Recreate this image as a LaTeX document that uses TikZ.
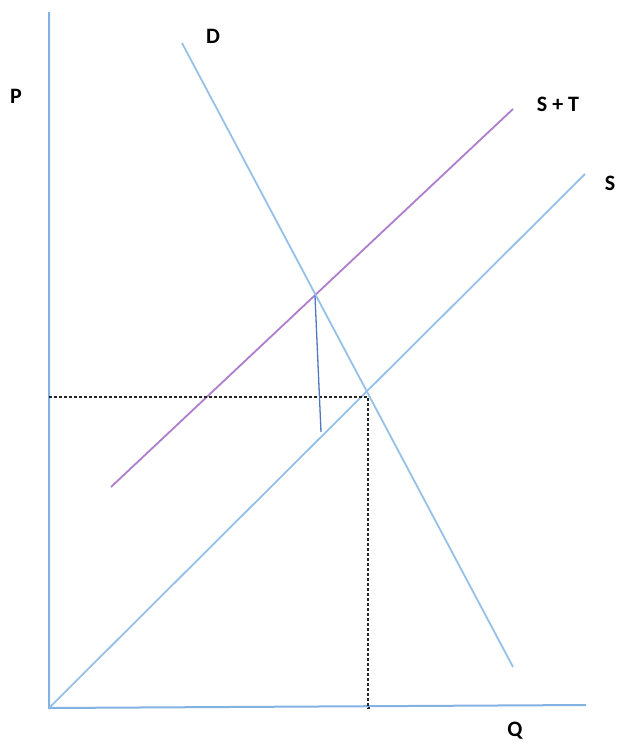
\documentclass[tikz,border=0pt]{standalone}
\usepackage{fontspec}
\setmainfont{Carlito}
\definecolor{curveblue}{RGB}{150,192,232}
\definecolor{axisblue}{RGB}{130,178,225}
\definecolor{taxpurple}{RGB}{175,125,205}
\definecolor{wedgeblue}{RGB}{80,120,190}
\begin{document}
\begin{tikzpicture}[x=1pt,y=-1pt,
  lbl/.style={font=\bfseries\fontsize{22}{26}\selectfont,text=black,inner sep=0pt},
  axisline/.style={draw=axisblue,line width=2pt},
  curve/.style={draw=curveblue,line width=1.8pt},
  taxcurve/.style={draw=taxpurple,line width=1.8pt},
  guide/.style={draw=black!85,dashed,dash pattern=on 3pt off 2pt,line width=1.4pt}]
\useasboundingbox (0,0) rectangle (621,744);
% coordinates
\coordinate (ytop) at (49,12);
\coordinate (O) at (49,708);
\coordinate (xend) at (586,705);
\coordinate (Sa) at (49,708);
\coordinate (Sb) at (585,174);
\coordinate (STa) at (111,487);
\coordinate (STb) at (513,109);
\coordinate (Da) at (182,43);
\coordinate (Db) at (513,667);
\coordinate (E) at (368,397);
\coordinate (Pl) at (49,397);
\coordinate (Qb) at (370,708);
\coordinate (Et) at (315,296);
\coordinate (Wb) at (321,432);
% axes
\draw[axisline] (ytop) -- (O) -- (xend);
% curves
\draw[curve] (Sa) -- (Sb);
\draw[taxcurve] (STa) -- (STb);
\draw[curve] (Da) -- (Db);
% guides
\draw[guide] (Pl) -- (E) -- (E |- Qb) -- (Qb);
% tax wedge
\draw[draw=wedgeblue,line width=1.3pt] (Et) -- (Wb);
% labels
\node[lbl] (Dl) at (213,36) {D};
\node[lbl] (Pl2) at (16,96) {P};
\node[lbl] (STl) at (558,104) {S + T};
\node[lbl] (Sl) at (610,183) {S};
\node[lbl] (Ql) at (515,731) {Q};
\end{tikzpicture}
\end{document}
